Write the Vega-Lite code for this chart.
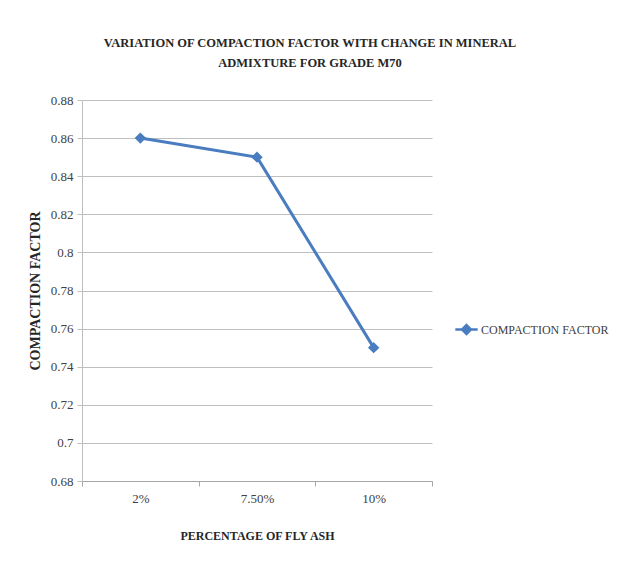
{
  "$schema": "https://vega.github.io/schema/vega-lite/v6.json",
  "autosize": {"type": "none"},
  "width": 350,
  "height": 381,
  "padding": {"left": 82, "top": 100, "right": 188, "bottom": 93},
  "background": "white",
  "title": {
    "text": ["VARIATION OF COMPACTION FACTOR WITH CHANGE IN MINERAL", "ADMIXTURE FOR GRADE M70"],
    "font": "Liberation Serif",
    "fontSize": 12.5,
    "fontWeight": "bold",
    "color": "#262626",
    "anchor": "middle",
    "frame": "group",
    "dx": 53,
    "offset": 25,
    "lineHeight": 20
  },
  "data": {
    "values": [
      {"ash": "2%", "cf": 0.86, "series": "COMPACTION FACTOR"},
      {"ash": "7.50%", "cf": 0.85, "series": "COMPACTION FACTOR"},
      {"ash": "10%", "cf": 0.75, "series": "COMPACTION FACTOR"}
    ]
  },
  "mark": {"type": "line", "strokeWidth": 3, "point": {"shape": "diamond", "size": 130, "filled": true}},
  "encoding": {
    "x": {
      "field": "ash", "type": "nominal", "sort": null,
      "scale": {"paddingInner": 0, "paddingOuter": 0},
      "axis": {
        "title": "PERCENTAGE OF FLY ASH",
        "labelAngle": 0,
        "tickBand": "extent",
        "tickSize": 5,
        "tickColor": "#a6a6a6",
        "domainColor": "#a6a6a6",
        "labelFont": "Liberation Serif",
        "labelFontSize": 13,
        "labelColor": "#404040",
        "labelPadding": 6,
        "titleFont": "Liberation Serif",
        "titleFontSize": 12,
        "titleFontWeight": "bold",
        "titleColor": "#262626",
        "titlePadding": 25
      }
    },
    "y": {
      "field": "cf", "type": "quantitative",
      "scale": {"domain": [0.68, 0.88], "zero": false},
      "axis": {
        "title": "COMPACTION FACTOR",
        "values": [0.68, 0.7, 0.72, 0.74, 0.76, 0.78, 0.8, 0.82, 0.84, 0.86, 0.88],
        "format": ".2~f",
        "grid": true,
        "gridColor": "#bfbfbf",
        "tickSize": 5,
        "tickColor": "#bfbfbf",
        "domainColor": "#bfbfbf",
        "labelFont": "Liberation Serif",
        "labelFontSize": 13,
        "labelColor": "#404040",
        "labelPadding": 4,
        "titleFont": "Liberation Serif",
        "titleFontSize": 14,
        "titleFontWeight": "bold",
        "titleColor": "#262626",
        "titlePadding": 8
      }
    },
    "color": {
      "field": "series", "type": "nominal",
      "scale": {"range": ["#4a7cc0"]},
      "legend": {
        "title": null,
        "orient": "none",
        "legendX": 372,
        "legendY": 217,
        "symbolType": "M-1,0H1M0,-0.4L0.4,0L0,0.4L-0.4,0Z",
        "symbolSize": 500,
        "symbolStrokeWidth": 2.5,
        "labelFont": "Liberation Serif",
        "labelFontSize": 12,
        "labelColor": "#404040",
        "labelOffset": 2
      }
    }
  },
  "config": {"view": {"stroke": null}}
}
